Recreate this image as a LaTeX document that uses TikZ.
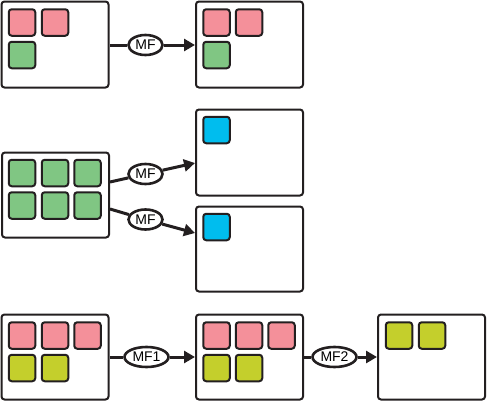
\documentclass[tikz,border=0pt]{standalone}
\usepackage{fontspec}
\setmainfont{Liberation Sans}
\usetikzlibrary{shapes.geometric,arrows.meta,calc}
\definecolor{pinkc}{HTML}{F4909A}
\definecolor{greenc}{HTML}{80C683}
\definecolor{bluec}{HTML}{00BDEE}
\definecolor{yellowc}{HTML}{C4CF2C}
\definecolor{inkc}{HTML}{231F20}
\tikzset{
  bigbox/.style={draw=inkc, line width=2pt, rounded corners=3pt, fill=white, minimum width=107pt, minimum height=86pt, inner sep=0pt},
  sq/.style={draw=inkc, line width=2pt, rounded corners=3pt, minimum width=26.5pt, minimum height=26.5pt, inner sep=0pt},
  pk/.style={sq, fill=pinkc},
  gr/.style={sq, fill=greenc},
  bl/.style={sq, fill=bluec},
  yl/.style={sq, fill=yellowc},
  mf/.style={draw=inkc, line width=2.6pt, ellipse, fill=white, minimum width=34pt, minimum height=20pt, inner sep=0pt, font=\fontsize{14}{14}\selectfont},
  mfw/.style={mf, minimum width=44pt, minimum height=20pt},
  conn/.style={draw=inkc, line width=3pt},
  arr/.style={conn, -{Triangle[length=11pt,width=12pt]}}
}
\begin{document}
\begin{tikzpicture}[x=1pt,y=-1pt]
\useasboundingbox (0,0) rectangle (488,402);
% top row
\node[bigbox] (A) at (55,44.5) {};
\node[bigbox] (B) at (249.5,44.5) {};
\node[pk] (a1) at (22,22.5) {};
\node[pk] (a2) at (55,22.5) {};
\node[gr] (a3) at (22,55) {};
\node[pk] (b1) at (216.5,22.5) {};
\node[pk] (b2) at (249,22.5) {};
\node[gr] (b3) at (216.5,55) {};
\node[mf] (m0) at (145.5,45) {MF};
\draw[conn] (A.east |- m0) -- (m0);
\draw[arr] (m0) -- (B.west |- m0);
% middle
\node[bigbox, minimum height=85pt] (C) at (55.5,195) {};
\node[bigbox] (D) at (249.5,152.5) {};
\node[bigbox, minimum height=85pt] (E) at (249.5,249) {};
\node[gr] (c1) at (22,173) {};
\node[gr] (c2) at (55,173) {};
\node[gr] (c3) at (87.5,173) {};
\node[gr] (c4) at (22,205.5) {};
\node[gr] (c5) at (55,205.5) {};
\node[gr] (c6) at (87.5,205.5) {};
\node[bl] (d1) at (216.5,130) {};
\node[bl] (e1) at (216.5,227) {};
\node[mf] (m1) at (145.5,174) {MF};
\node[mf] (m2) at (145.5,219.5) {MF};
\draw[conn] ($(C.east)+(0,-13)$) -- (m1);
\draw[arr] (m1) -- ($(D.west)+(0,10.5)$);
\draw[conn] ($(C.east)+(0,14)$) -- (m2);
\draw[arr] (m2) -- ($(E.west)+(0,-16)$);
% bottom row
\node[bigbox, minimum height=85pt] (F) at (55,357) {};
\node[bigbox, minimum height=85pt] (G) at (249.5,357) {};
\node[bigbox, minimum height=85pt] (H) at (431.5,357) {};
\node[pk] (f1) at (22,335.5) {};
\node[pk] (f2) at (55,335.5) {};
\node[pk] (f3) at (87.5,335.5) {};
\node[yl] (f4) at (22,368) {};
\node[yl] (f5) at (55,368) {};
\node[pk] (g1) at (216.5,335.5) {};
\node[pk] (g2) at (249,335.5) {};
\node[pk] (g3) at (281.5,335.5) {};
\node[yl] (g4) at (216.5,368) {};
\node[yl] (g5) at (249,368) {};
\node[yl] (h1) at (399,335.5) {};
\node[yl] (h2) at (432,335.5) {};
\node[mfw] (n1) at (146.5,357) {MF1};
\node[mfw] (n2) at (334.5,357) {MF2};
\draw[conn] (F.east |- n1) -- (n1);
\draw[arr] (n1) -- (G.west |- n1);
\draw[conn] (G.east |- n2) -- (n2);
\draw[arr] (n2) -- (H.west |- n2);
\end{tikzpicture}
\end{document}
